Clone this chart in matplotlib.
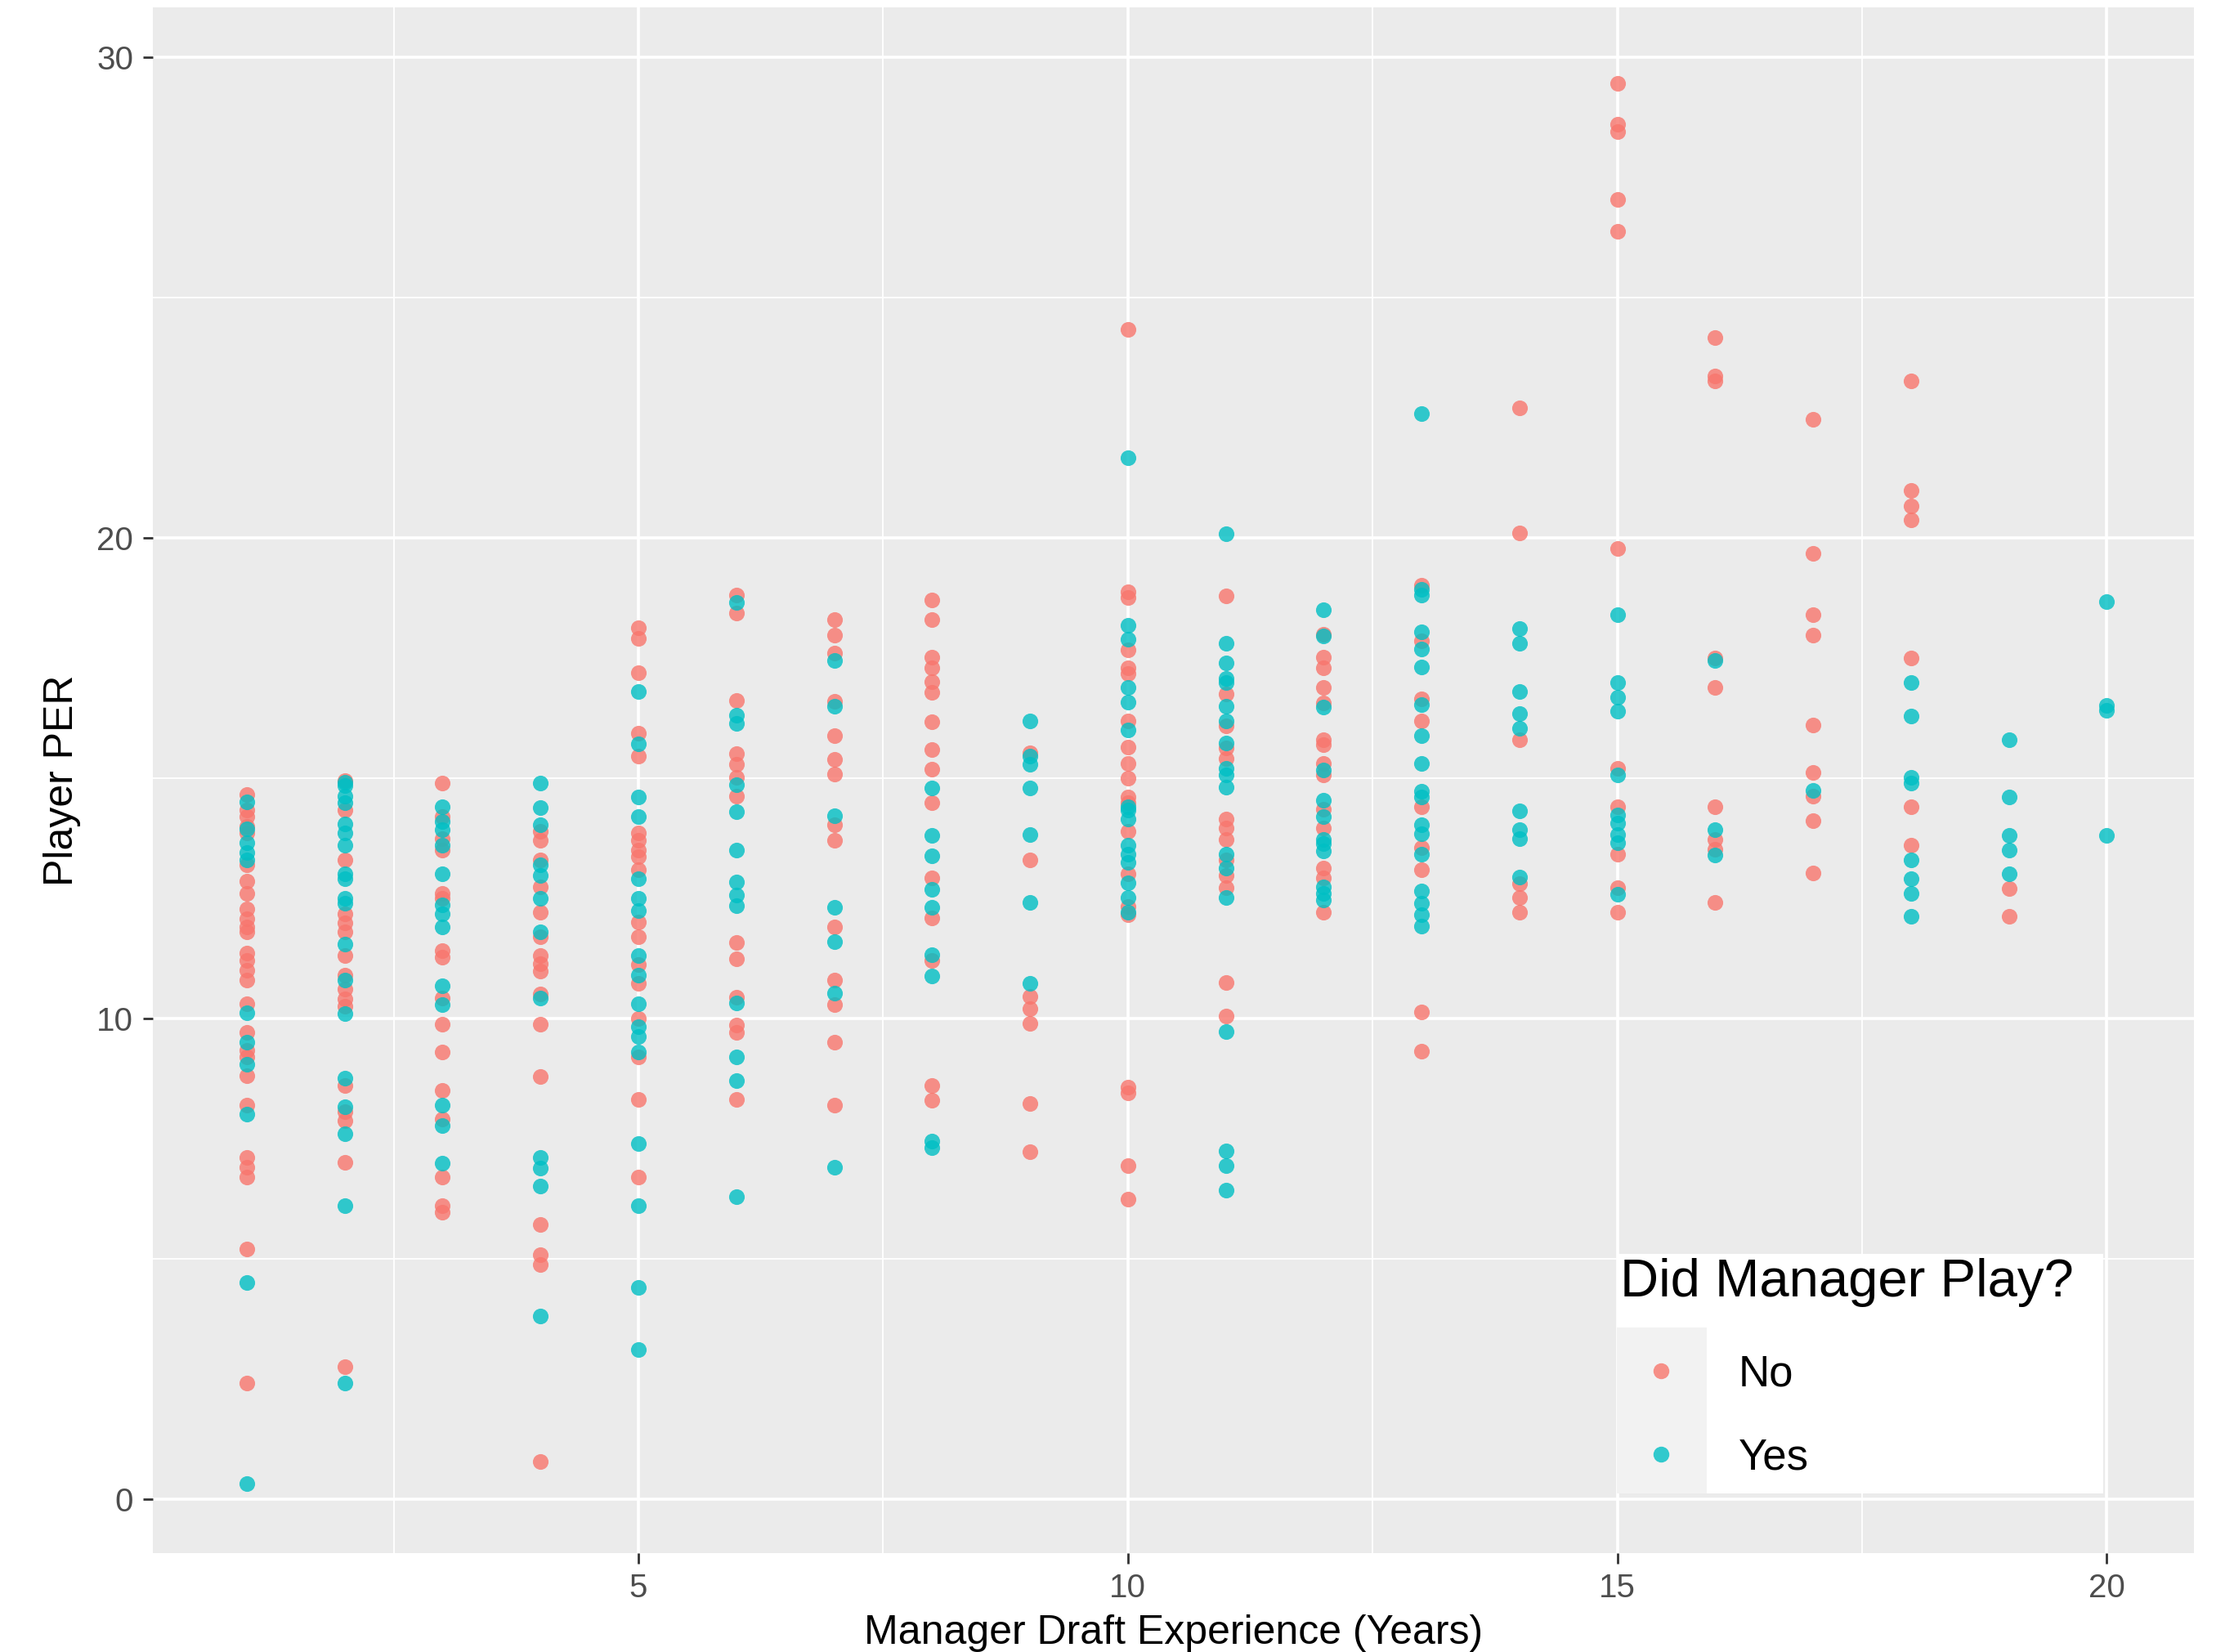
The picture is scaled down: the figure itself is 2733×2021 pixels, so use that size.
import matplotlib
matplotlib.use("Agg")
import matplotlib.pyplot as plt
from matplotlib.lines import Line2D
from matplotlib.patches import Rectangle

plt.rcParams['font.family'] = ['Liberation Sans', 'DejaVu Sans']

# Manager draft experience (years) and player PER, split by whether the manager played
years = list(range(1, 21))

no_per = [
    [14.65, 14.33, 14.2, 14.0, 13.85, 13.2, 12.86, 12.6, 12.27, 12.07, 11.9, 11.8, 11.35, 11.2,
     11.0, 10.8, 10.3, 9.7, 9.33, 9.2, 8.8, 8.2, 7.1, 6.9, 6.7, 5.2, 2.4],
    [14.95, 14.33, 13.3, 12.18, 11.98, 11.8, 11.3, 10.9, 10.6, 10.4, 10.25, 8.6, 8.06, 7.87, 7.0, 2.75],
    [14.9, 14.2, 13.74, 13.5, 12.6, 12.5, 11.4, 11.27, 10.42, 9.88, 9.3, 8.5, 7.9, 6.69, 6.1, 5.96],
    [13.9, 13.7, 13.3, 12.74, 12.2, 11.7, 11.3, 11.13, 10.98, 10.5, 9.88, 8.78, 5.7, 5.08, 4.87, 0.77],
    [18.12, 17.9, 17.2, 15.93, 15.45, 13.85, 13.7, 13.5, 13.37, 13.1, 12.0, 11.7, 11.12, 10.73,
     10.0, 9.2, 8.31, 6.7],
    [18.81, 18.44, 16.62, 15.5, 15.29, 15.02, 14.63, 11.58, 11.23, 10.43, 9.86, 9.7, 8.31],
    [18.3, 17.98, 17.6, 16.59, 15.88, 15.39, 15.08, 14.02, 13.7, 11.9, 10.8, 10.29, 9.5, 8.2],
    [18.7, 18.29, 17.52, 17.3, 17.0, 16.79, 16.17, 15.6, 15.19, 14.48, 12.92, 12.09, 11.21, 8.6, 8.3],
    [15.52, 13.3, 10.45, 10.2, 9.9, 8.23, 7.23],
    [24.34, 18.88, 18.76, 17.67, 17.3, 17.18, 16.19, 15.64, 15.3, 15.0, 14.6, 14.48, 13.9, 13.0,
     12.33, 12.15, 8.57, 8.45, 6.93, 6.24],
    [18.79, 16.75, 16.08, 15.63, 15.4, 14.14, 13.96, 13.72, 13.3, 12.98, 12.71, 10.74, 10.04],
    [17.99, 17.52, 17.29, 16.89, 16.57, 15.8, 15.7, 15.31, 15.07, 14.35, 13.96, 13.13, 12.93, 12.21],
    [19.02, 17.85, 16.65, 16.19, 14.4, 13.56, 13.1, 10.14, 9.32],
    [22.71, 20.11, 15.8, 12.81, 12.51, 12.21],
    [29.46, 28.61, 28.46, 27.05, 26.38, 19.78, 15.21, 14.4, 13.42, 12.71, 12.21],
    [24.17, 23.36, 23.26, 17.5, 16.89, 14.4, 13.72, 13.52, 12.42],
    [22.46, 19.68, 18.4, 17.98, 16.11, 15.11, 14.62, 14.11, 13.02],
    [23.27, 20.98, 20.67, 20.38, 17.5, 14.4, 13.6],
    [12.7, 12.12],
    [],
]

yes_per = [
    [14.5, 13.95, 13.65, 13.45, 13.3, 10.12, 9.5, 9.04, 8.0, 4.5, 0.31],
    [14.92, 14.85, 14.63, 14.48, 14.04, 13.85, 13.6, 13.0, 12.9, 12.5, 12.4, 11.55, 10.8, 10.1,
     8.75, 8.16, 7.6, 6.1, 2.4],
    [14.4, 14.1, 13.93, 13.6, 13.0, 12.36, 12.17, 11.9, 10.68, 10.28, 8.19, 7.76, 6.98],
    [14.9, 14.38, 14.02, 13.2, 12.98, 12.5, 11.8, 10.42, 7.1, 6.88, 6.5, 3.8],
    [16.8, 15.72, 14.6, 14.2, 12.9, 12.5, 12.24, 11.3, 10.9, 10.3, 9.82, 9.63, 9.3, 7.4, 6.1, 4.39, 3.1],
    [18.65, 16.3, 16.14, 14.86, 14.3, 13.5, 12.83, 12.56, 12.35, 10.32, 9.2, 8.7, 6.29],
    [17.44, 16.49, 14.21, 12.31, 11.6, 10.52, 6.9],
    [14.79, 13.8, 13.39, 12.69, 12.31, 11.32, 10.88, 7.44, 7.31],
    [16.19, 15.45, 15.28, 14.8, 13.82, 12.42, 10.72],
    [21.67, 18.18, 17.89, 16.88, 16.58, 16.0, 14.4, 14.33, 14.15, 13.6, 13.42, 13.24, 12.82, 12.51, 12.2],
    [20.09, 17.8, 17.39, 17.08, 16.99, 16.5, 16.19, 15.73, 15.21, 15.07, 14.81, 13.41, 13.12, 12.51,
     9.73, 7.24, 6.94, 6.43],
    [18.51, 17.95, 16.47, 15.17, 14.53, 14.19, 13.72, 13.63, 13.49, 12.74, 12.6, 12.46],
    [22.58, 18.93, 18.81, 18.04, 17.69, 17.31, 16.53, 15.89, 15.3, 14.73, 14.61, 14.02, 13.84, 13.42,
     12.65, 12.39, 12.15, 11.92],
    [18.11, 17.81, 16.8, 16.35, 16.03, 14.31, 13.93, 13.74, 12.94],
    [18.4, 16.99, 16.68, 16.39, 15.06, 14.23, 14.06, 13.82, 13.65, 12.59],
    [17.45, 13.93, 13.4],
    [14.74],
    [16.99, 16.29, 15.02, 14.9, 13.3, 12.91, 12.6, 12.12],
    [15.8, 14.61, 13.81, 13.5, 13.01],
    [18.68, 16.51, 16.41, 13.81],
]

groups = ["No", "Yes"]
colors = ["#F8766D", "#00BFC4"]


def flatten(per_by_year):
    xs, ys = [], []
    for yr, vals in zip(years, per_by_year):
        xs.extend([yr] * len(vals))
        ys.extend(vals)
    return xs, ys


fig = plt.figure(figsize=(27.33, 20.21), dpi=100)
ax = fig.add_axes([0.0684, 0.0599, 0.9821 - 0.0684, 0.9955 - 0.0599])
ax.set_facecolor("#EBEBEB")

for per, col in zip([no_per, yes_per], colors):
    xs, ys = flatten(per)
    ax.scatter(xs, ys, s=190, color=col, alpha=0.8, linewidths=0, zorder=3)

ax.set_xlim(0.04, 20.89)
ax.set_ylim(-1.13, 31.04)
ax.set_xticks([5, 10, 15, 20])
ax.set_xticks([2.5, 7.5, 12.5, 17.5], minor=True)
ax.set_yticks([0, 10, 20, 30])
ax.set_yticks([5, 15, 25], minor=True)

ax.grid(which="major", color="white", linewidth=2.6, zorder=0)
ax.grid(which="minor", color="white", linewidth=1.3, zorder=0)
ax.set_axisbelow(True)
for sp in ax.spines.values():
    sp.set_visible(False)

ax.tick_params(which="major", length=9, width=2, color="#333333", labelsize=29,
               labelcolor="#4D4D4D", pad=8)
ax.tick_params(which="minor", length=0)

ax.set_xlabel("Manager Draft Experience (Years)", fontsize=36, labelpad=10)
ax.set_ylabel("Player PER", fontsize=36, labelpad=14)

# legend drawn inside the panel, bottom right
fig.patches.append(Rectangle((1978 / 2733, 1 - 1827 / 2021), (2573 - 1978) / 2733,
                             (1827 - 1534) / 2021, transform=fig.transFigure,
                             facecolor="white", edgecolor="none", zorder=5))
fig.patches.append(Rectangle((1978 / 2733, 1 - 1827 / 2021), (2088 - 1978) / 2733,
                             (1827 - 1624) / 2021, transform=fig.transFigure,
                             facecolor="#F2F2F2", edgecolor="none", zorder=6))
fig.text(1982 / 2733, 1 - 1569 / 2021, "Did Manager Play?", fontsize=47,
         va="center", ha="left", zorder=7)
for i, (g, col) in enumerate(zip(groups, colors)):
    yk = 1 - (1677 + i * 102) / 2021
    fig.lines.append(Line2D([2032 / 2733], [yk], transform=fig.transFigure, marker="o",
                            markersize=14, color=col, alpha=0.8, markeredgewidth=0,
                            linestyle="none", zorder=7))
    fig.text(2127 / 2733, 1 - (1681 + i * 102) / 2021, g, fontsize=38, va="center",
             ha="left", zorder=7)

fig.savefig("out.png", dpi=100, facecolor="white")
